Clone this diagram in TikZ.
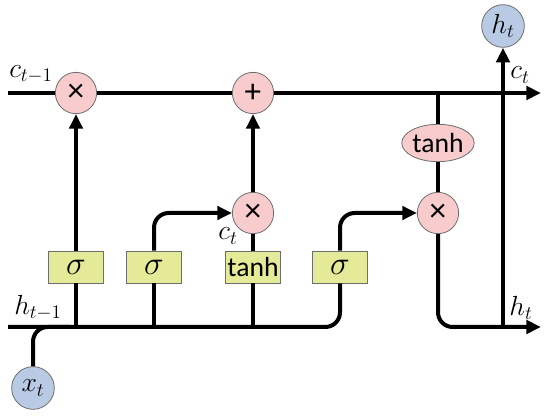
\documentclass[tikz,border=0pt]{standalone}
\usepackage{fontspec}
\setsansfont{Carlito}
\usetikzlibrary{positioning,arrows.meta,shapes.geometric}

\definecolor{gatepink}{RGB}{248,204,204}
\definecolor{inblue}{RGB}{184,202,228}
\definecolor{layeryellow}{RGB}{229,234,152}
\definecolor{rimgray}{RGB}{110,110,110}

\begin{document}
\begin{tikzpicture}[x=0.75pt, y=-0.75pt, >={Triangle[length=11pt,width=10pt]},
  line width=3pt, rounded corners=11pt,
  op/.style={circle, draw=rimgray, line width=0.6pt, fill=gatepink,
             minimum size=31pt, inner sep=0pt, font=\sffamily\Huge},
  io/.style={circle, draw=rimgray, line width=0.6pt, fill=inblue,
             minimum size=32pt, inner sep=0pt, font=\huge},
  layer/.style={rectangle, draw=rimgray, line width=0.6pt, fill=layeryellow,
                minimum width=41pt, minimum height=24pt, inner sep=0pt,
                rounded corners=0pt, font=\Huge},
  act/.style={ellipse, draw=rimgray, line width=0.6pt, fill=gatepink,
              minimum width=47pt, minimum height=28pt, inner sep=0pt,
              font=\sffamily\huge},
  lbl/.style={font=\huge}]
  \useasboundingbox (0,0) rectangle (550,416);

  % free ends of the two buses
  \coordinate (cin)  at (8,93);
  \coordinate (cout) at (541,93);
  \coordinate (hin)  at (8,327);
  \coordinate (hout) at (541,327);

  \node (mulf) [op] at (76,93)   {×};
  \node (add)  [op] at (253,93)  {+};
  \node (mulm) [op] at (253,213) {×};
  \node (mulo) [op] at (438,213) {×};
  \node (tanho)[act] at (438,143) {tanh};

  \node (sig1) [layer] at (76,267)  {$\sigma$};
  \node (sig2) [layer] at (154,267) {$\sigma$};
  \node (tanhl)[layer, font=\sffamily\huge] at (253,267) {tanh};
  \node (sig4) [layer] at (340,267) {$\sigma$};

  \node (xt) [io] at (33,388) {$x_t$};
  \node (ht) [io] at (503,26) {$h_t$};

  \node (lcprev) [lbl] at (31,74)  {$c_{t-1}$};
  \node (lcout)  [lbl] at (520,75) {$c_t$};
  \node (lhprev) [lbl] at (38,308) {$h_{t-1}$};
  \node (lhout)  [lbl] at (521,308) {$h_t$};
  \node (lcmid)  [lbl] at (228,236) {$c_t$};

  % cell state
  \draw (cin) -- (mulf);
  \draw (mulf) -- (add);
  \draw[->] (add) -- (cout);

  % hidden state and input
  \draw (xt) |- (70,327);
  \draw (hin) -| (sig4);
  \draw[->] (sig4) |- (mulo);
  \draw (sig1 |- hin) -- (sig1);
  \draw[->] (sig1) -- (mulf);
  \draw (sig2 |- hin) -- (sig2);
  \draw[->] (sig2) |- (mulm);
  \draw (tanhl |- hin) -- (tanhl);
  \draw (tanhl) -- (mulm);
  \draw[->] (mulm) -- (add);

  % output
  \draw (mulo |- cin) -- (tanho);
  \draw (tanho) -- (mulo);
  \draw[->] (mulo) |- (hout);
  \draw[->] (ht |- hout) -- (ht);
\end{tikzpicture}
\end{document}
